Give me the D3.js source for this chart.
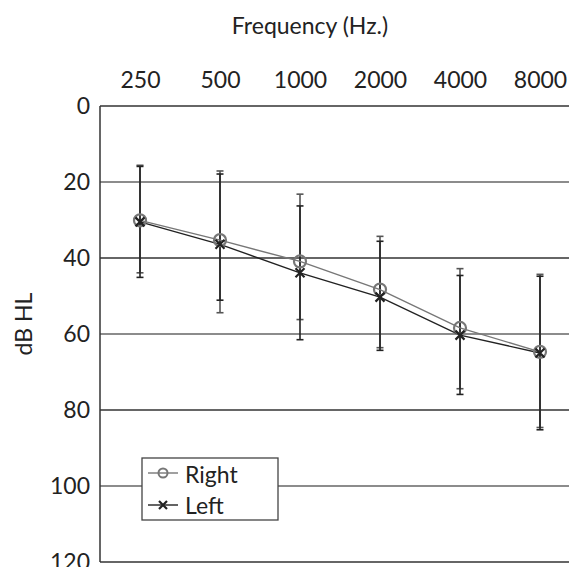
<!DOCTYPE html>
<html>
<head>
<meta charset="utf-8">
<script src="https://cdn.jsdelivr.net/npm/d3@7"></script>
<style>
  body { margin: 0; background: #fff; }
  svg text { font-family: Lato, "Open Sans", sans-serif; fill: #222; }
</style>
</head>
<body>
<div id="chart-area"></div>
<script>
// audiogram, mean thresholds with error bars
var freqs = ["250", "500", "1000", "2000", "4000", "8000"];
var yTicks = [0, 20, 40, 60, 80, 100, 120];

var rightMean = [30.1, 35.3, 40.9, 48.3, 58.4, 64.7];
var rightLow  = [15.6, 17.1, 23.2, 34.3, 42.8, 44.3];
var rightHigh = [43.9, 54.4, 56.2, 63.6, 74.4, 84.6];

var leftMean = [30.5, 36.4, 43.9, 50.3, 60.3, 65.0];
var leftLow  = [15.9, 17.9, 26.3, 35.6, 44.6, 44.8];
var leftHigh = [45.1, 51.1, 61.5, 64.3, 75.9, 85.2];

var width = 569, height = 567;
// note: "top" clashes with window.top, so plot_* names
var plot_left = 100, plot_top = 106, plot_bottom = 562, plot_right = 580;
var fs = "23px";

var svg = d3.select("#chart-area").append("svg")
	.attr("width", width)
	.attr("height", height);

var x = d3.scalePoint()
	.domain(freqs)
	.range([plot_left + 40, plot_right - 40]);

var y = d3.scaleLinear()
	.domain([0, 120])
	.range([plot_top, plot_bottom]);

// grid lines
svg.selectAll("line.grid")
	.data(yTicks)
	.enter()
	.append("line")
		.attr("class", "grid")
		.attr("x1", plot_left)
		.attr("x2", width)
		.attr("y1", function(d){ return y(d); })
		.attr("y2", function(d){ return y(d); })
		.style("stroke", function(d, i){ return (d == 0 || d == 120) ? "#333" : (i % 2 ? "#666" : "#333"); })
		.style("stroke-width", 1.5);

svg.append("line")
	.attr("x1", plot_left).attr("x2", plot_left)
	.attr("y1", plot_top).attr("y2", plot_bottom)
	.style("stroke", "#333")
	.style("stroke-width", 1.5);

// axes
var xAxis = d3.axisTop(x).tickSize(0).tickPadding(18);
var gx = svg.append("g")
	.attr("transform", "translate(0," + plot_top + ")")
	.call(xAxis);
gx.select(".domain").remove();
gx.selectAll("text").style("font-size", fs);

var yAxis = d3.axisLeft(y).tickValues(yTicks).tickSize(0).tickPadding(10);
var gy = svg.append("g")
	.attr("transform", "translate(" + plot_left + ",0)")
	.call(yAxis);
gy.select(".domain").remove();
gy.selectAll("text").style("font-size", fs);

svg.append("text")
	.attr("x", 310)
	.attr("y", 34)
	.attr("text-anchor", "middle")
	.style("font-size", fs)
	.text("Frequency (Hz.)");

svg.append("text")
	.attr("transform", "translate(32,324) rotate(-90)")
	.attr("text-anchor", "middle")
	.style("font-size", fs)
	.text("dB HL");

// error bars
function errorBars(low, high, color) {
	var g = svg.append("g").style("stroke", color).style("stroke-width", 1.6);
	freqs.forEach(function(f, i){
		g.append("line")
			.attr("x1", x(f)).attr("x2", x(f))
			.attr("y1", y(low[i])).attr("y2", y(high[i]));
		[low[i], high[i]].forEach(function(v){
			g.append("line")
				.attr("x1", x(f) - 3.5).attr("x2", x(f) + 3.5)
				.attr("y1", y(v)).attr("y2", y(v));
		});
	});
}
errorBars(rightLow, rightHigh, "#555");
errorBars(leftLow, leftHigh, "#222");

var line = d3.line()
	.x(function(d, i){ return x(freqs[i]); })
	.y(function(d){ return y(d); });

svg.append("path")
	.datum(rightMean)
	.attr("d", line)
	.style("fill", "none")
	.style("stroke", "#777")
	.style("stroke-width", 1.4);

svg.append("path")
	.datum(leftMean)
	.attr("d", line)
	.style("fill", "none")
	.style("stroke", "#222")
	.style("stroke-width", 1.4);

svg.selectAll("circle.right")
	.data(rightMean)
	.enter()
	.append("circle")
		.attr("class", "right")
		.attr("cx", function(d, i){ return x(freqs[i]); })
		.attr("cy", function(d){ return y(d); })
		.attr("r", 6)
		.style("fill", "none")
		.style("stroke", "#777")
		.style("stroke-width", 2.2);

function cross(sel, s) {
	sel.append("path")
		.attr("d", "M" + (-s) + "," + (-s) + "L" + s + "," + s + "M" + (-s) + "," + s + "L" + s + "," + (-s))
		.style("fill", "none")
		.style("stroke", "#222")
		.style("stroke-width", 2.2);
}

leftMean.forEach(function(d, i){
	var g = svg.append("g").attr("transform", "translate(" + x(freqs[i]) + "," + y(d) + ")");
	cross(g, 4.5);
});

// legend
var lg = svg.append("g").attr("transform", "translate(142,458)");
lg.append("rect")
	.attr("width", 136).attr("height", 62)
	.style("fill", "#fff")
	.style("stroke", "#444")
	.style("stroke-width", 1.3);

lg.append("line").attr("x1", 6).attr("x2", 36).attr("y1", 15).attr("y2", 15)
	.style("stroke", "#777").style("stroke-width", 1.4);
lg.append("circle").attr("cx", 21).attr("cy", 15).attr("r", 4.5)
	.style("fill", "none").style("stroke", "#777").style("stroke-width", 2);
lg.append("text").attr("x", 43).attr("y", 25).style("font-size", fs).text("Right");

lg.append("line").attr("x1", 6).attr("x2", 36).attr("y1", 47).attr("y2", 47)
	.style("stroke", "#222").style("stroke-width", 1.4);
var lx = lg.append("g").attr("transform", "translate(21,47)");
cross(lx, 4);
lg.append("text").attr("x", 43).attr("y", 56).style("font-size", fs).text("Left");
</script>
</body>
</html>
